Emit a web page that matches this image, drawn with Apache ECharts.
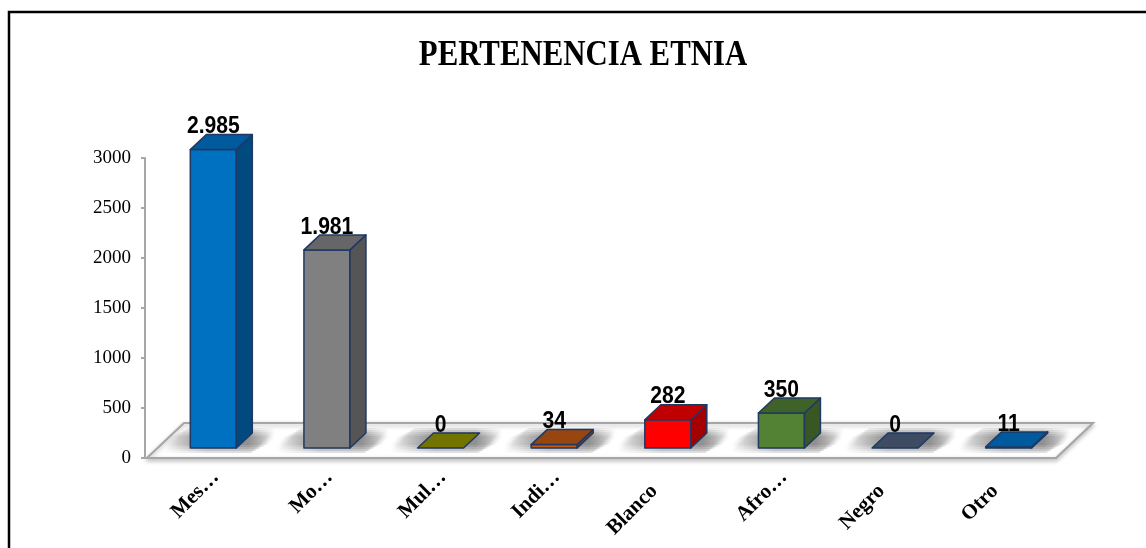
<!DOCTYPE html>
<html>
<head>
<meta charset="utf-8">
<script src="https://cdn.jsdelivr.net/npm/echarts@6/dist/echarts.min.js"></script>
<style>
html, body { margin: 0; padding: 0; background: #fff; overflow: hidden; }
#chart { width: 1146px; height: 548px; }
</style>
</head>
<body>
<div id="chart"></div>
<script>
const categories = ["Mes…", "Mo…", "Mul…", "Indi…", "Blanco", "Afro…", "Negro", "Otro"];
const values = [2985, 1981, 0, 34, 282, 350, 0, 11];
const yTicks = [0, 500, 1000, 1500, 2000, 2500, 3000];
const faceColors = ["#0070c0", "#808080", "#7f7f00", "#c55a11", "#ff0000", "#548235", "#44546a", "#0070c0"];
const topColors = ["#005a9e", "#666666", "#737300", "#97460f", "#c00000", "#3f6229", "#3d4c63", "#005a9e"];
const sideColors = ["#004a80", "#555555", "#666600", "#843c0c", "#a50000", "#385723", "#333f50", "#004a80"];

const edge = "#1f3864";
const floorDx = 37, floorDy = -35;   // floor depth
const barDx = 9.5, barDy = -10;      // bars sit a bit back on the floor
const depthX = 16, depthY = -15;     // depth of each bar
const barWidth = 46;
const shadowSteps = [0, 2, 4, 6, 8]; // layered bands give the soft floor shadow

function fmt(v) {
  return String(v).replace(/\B(?=(\d{3})+$)/g, ".");
}

function renderFloor(params, api) {
  const cs = params.coordSys;
  const x0 = cs.x, x1 = cs.x + cs.width, y = cs.y + cs.height;
  return {
    type: "polygon",
    shape: { points: [[x0, y], [x0 + floorDx, y + floorDy], [x1 + floorDx, y + floorDy], [x1, y]] },
    style: { fill: "#fff", stroke: "#a6a6a6", lineWidth: 2, shadowBlur: 4, shadowColor: "#bbb", shadowOffsetY: 2 }
  };
}

function shadowBand(l, r, b, h) {
  const y0 = b + 5 - h, y1 = b - 20 + h;
  const x0 = l - 28, x1 = r + 40;
  return {
    type: "polygon",
    shape: { points: [[x0, y0], [x0 + (y0 - y1), y1], [x1, y1], [x1 - (y0 - y1), y0]] },
    style: {
      fill: {
        type: "linear", x: 0, y: 0, x2: 1, y2: 0,
        colorStops: [
          { offset: 0, color: "rgba(90,90,90,0)" },
          { offset: 0.4, color: "rgba(90,90,90,0.2)" },
          { offset: 0.75, color: "rgba(90,90,90,0.2)" },
          { offset: 1, color: "rgba(90,90,90,0)" }
        ]
      }
    }
  };
}

function renderBar(params, api) {
  const i = api.value(0);
  const top = api.coord([i, api.value(1)]);
  const base = api.coord([i, 0]);
  const l = top[0] + barDx - barWidth / 2;
  const r = l + barWidth;
  const t = top[1] + barDy;
  const b = base[1] + barDy;
  const line = { stroke: edge, lineWidth: 1.5, lineJoin: "round" };
  const kids = shadowSteps.map(h => shadowBand(l, r, b, h));
  if (b - t >= 1) {
    kids.push({
      type: "rect",
      shape: { x: l, y: t, width: barWidth, height: b - t },
      style: Object.assign({ fill: faceColors[i] }, line)
    });
    kids.push({
      type: "polygon",
      shape: { points: [[r, t], [r + depthX, t + depthY], [r + depthX, b + depthY], [r, b]] },
      style: Object.assign({ fill: sideColors[i] }, line)
    });
  }
  kids.push({
    type: "polygon",
    shape: { points: [[l, t], [l + depthX, t + depthY], [r + depthX, t + depthY], [r, t]] },
    style: Object.assign({ fill: topColors[i] }, line)
  });
  kids.push({
    type: "text",
    x: (l + r) / 2,
    y: t + depthY + 4,
    scaleX: 0.88,
    style: {
      text: fmt(values[i]),
      align: "center",
      verticalAlign: "bottom",
      fill: "#000",
      font: 'bold 24px "Liberation Sans", sans-serif'
    }
  });
  // category name, truncated names run further up the axis
  const cut = categories[i].endsWith("…");
  kids.push({
    type: "text",
    x: base[0] + (cut ? 12 : -4),
    y: base[1] + (cut ? 16 : 30),
    rotation: Math.PI / 4,
    style: {
      text: categories[i],
      align: "right",
      verticalAlign: "middle",
      fill: "#000",
      font: 'bold 21px "Liberation Serif", serif'
    }
  });
  return { type: "group", children: kids };
}

const chart = echarts.init(document.getElementById("chart"));
chart.setOption({
  animation: false,
  backgroundColor: "#fff",
  grid: { left: 147, right: 90, top: 158, bottom: 90 },
  xAxis: {
    type: "category",
    data: categories,
    z: 3,
    axisLine: { lineStyle: { color: "#a6a6a6", width: 2 } },
    axisTick: { inside: true, length: 6, lineStyle: { color: "#a6a6a6" } },
    axisLabel: { show: false }
  },
  yAxis: {
    type: "value",
    min: yTicks[0],
    max: yTicks[yTicks.length - 1],
    interval: 500,
    offset: 2,
    axisLine: { show: true, lineStyle: { color: "#a6a6a6", width: 2 } },
    axisTick: { show: true, length: 4, lineStyle: { color: "#a6a6a6", width: 2 } },
    axisLabel: { color: "#000", fontFamily: "Liberation Serif", fontSize: 19, margin: 14, formatter: v => String(v) },
    splitLine: { show: false }
  },
  series: [
    { type: "custom", z: 1, silent: true, data: [[0, 0]], renderItem: renderFloor },
    {
      type: "custom",
      z: 4,
      data: values.map((v, i) => [i, v]),
      encode: { x: 0, y: 1 },
      renderItem: renderBar
    }
  ],
  graphic: [
    {
      type: "text",
      x: 583,
      y: 56,
      scaleX: 0.88,
      silent: true,
      style: {
        text: "PERTENENCIA ETNIA",
        align: "center",
        verticalAlign: "middle",
        fill: "#000",
        font: 'bold 35px "Liberation Serif", serif'
      }
    },
    {
      type: "polyline",
      shape: { points: [[9, 548], [9, 12], [1146, 12]] },
      style: { fill: "none", stroke: "#000", lineWidth: 2.5 },
      silent: true,
      z: 10
    }
  ]
});
</script>
</body>
</html>
